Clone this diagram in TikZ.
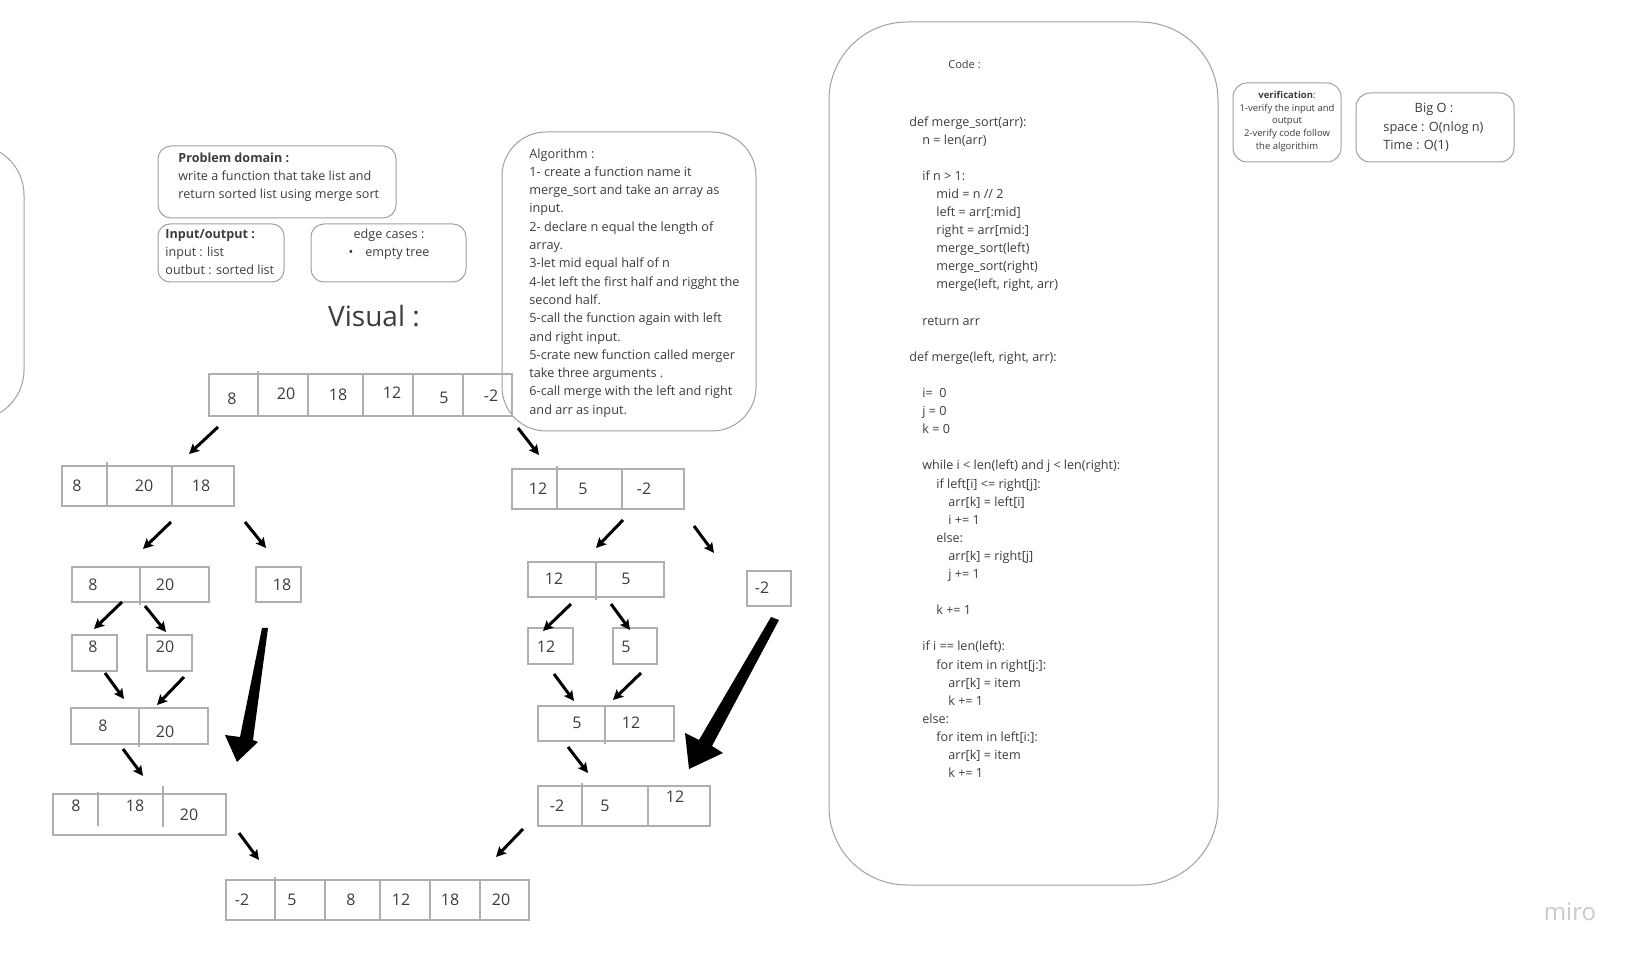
\documentclass[tikz,border=0pt]{standalone}
\usepackage{fontspec}
\setmainfont{Open Sans}
\usetikzlibrary{arrows.meta}
\definecolor{inkgray}{RGB}{60,60,60}
\definecolor{boxgray}{RGB}{160,160,160}
\definecolor{cellgray}{RGB}{175,175,175}
\definecolor{logogray}{RGB}{200,202,210}
\newcommand{\indI}{\hspace*{6.5pt}}
\newcommand{\indII}{\hspace*{13.5pt}}
\newcommand{\indIII}{\hspace*{19.5pt}}
\tikzset{
  cell/.style={draw=cellgray, line width=0.7pt},
  note/.style={draw=boxgray, line width=0.5pt},
  num/.style={inner sep=0pt, text=inkgray, font=\fontsize{8}{9}\selectfont},
  txt/.style={inner sep=0pt, text=inkgray, align=left, anchor=north west, font=\fontsize{6.3}{9}\selectfont},
  arr/.style={line width=1.5pt, -{Stealth[length=5pt,width=5pt,inset=1pt]}},
}
\begin{document}
\begin{tikzpicture}[x=0.5pt,y=-0.5pt]
\useasboundingbox (0,0) rectangle (1633,956);
\clip (0,0) rectangle (1633,956);

% notes
\draw[note, rounded corners=25pt] (-100,145) rectangle (24,420);
\draw[note, rounded corners=6.5pt] (158,146) rectangle (396,218);
\node[txt] (prob) at (178,153) {\textbf{Problem domain :}\\write a function that take list and\\return sorted list using merge sort};
\draw[note, rounded corners=6pt] (158,224) rectangle (284,282);
\node[txt] (io) at (165,229) {\textbf{Input/output :}\\input : list\\outbut : sorted list};
\draw[note, rounded corners=6.5pt] (311,224) rectangle (466,282);
\node[txt, anchor=north, align=center] (edge) at (389,229) {edge cases :\\•\hspace{6pt}empty tree};
\node[inner sep=0pt, text=inkgray, font=\fontsize{14}{16}\selectfont] (visual) at (374,316) {Visual :};

\draw[note, rounded corners=22pt] (502,132) rectangle (756,431);
\node[txt, font=\fontsize{6.35}{9.15}\selectfont] (algo) at (529,148) {Algorithm :\\
1- create a function name it\\
merge\_sort and take an array as\\
input.\\
2- declare n equal the length of\\
array.\\
3-let mid equal half of n\\
4-let left the first half and rigght the\\
second half.\\
5-call the function again with left\\
and right input.\\
5-crate new function called merger\\
take three arguments .\\
6-call merge with the left and right\\
and arr as input.};

% code
\draw[note, rounded corners=39pt] (829,22) rectangle (1218,885);
\node[txt, font=\fontsize{5.5}{7}\selectfont] (codet) at (948,60) {Code :};
\node[txt, font=\fontsize{6.3}{9.05}\selectfont] (code) at (909,116) {def merge\_sort(arr):\\
\indI n = len(arr)\\
\mbox{}\\
\indI if n > 1:\\
\indII mid = n // 2\\
\indII left = arr[:mid]\\
\indII right = arr[mid:]\\
\indII merge\_sort(left)\\
\indII merge\_sort(right)\\
\indII merge(left, right, arr)\\
\mbox{}\\
\indI return arr\\
\mbox{}\\
def merge(left, right, arr):\\
\mbox{}\\
\indI i=~ 0\\
\indI j = 0\\
\indI k = 0\\
\mbox{}\\
\indI while i < len(left) and j < len(right):\\
\indII if left[i] <= right[j]:\\
\indIII arr[k] = left[i]\\
\indIII i += 1\\
\indII else:\\
\indIII arr[k] = right[j]\\
\indIII j += 1\\
\mbox{}\\
\indII k += 1\\
\mbox{}\\
\indI if i == len(left):\\
\indII for item in right[j:]:\\
\indIII arr[k] = item\\
\indIII k += 1\\
\indI else:\\
\indII for item in left[i:]:\\
\indIII arr[k] = item\\
\indIII k += 1};

\draw[note, rounded corners=7pt] (1233,83) rectangle (1341,162);
\node[txt, anchor=north, align=center, font=\fontsize{4.75}{6.3}\selectfont] (verif) at (1287,91) {\textbf{verification}:\\1-verify the input and\\output\\2-verify code follow\\the algorithim};
\draw[note, rounded corners=7pt] (1356,93) rectangle (1514,162);
\node[txt, anchor=north, font=\fontsize{6.4}{9}\selectfont] (bigot) at (1434,103) {Big O :};
\node[txt, font=\fontsize{6.4}{9}\selectfont] (bigo) at (1383,121) {space : O(nlog n)\\Time : O(1)};

% split rows
\draw[cell] (209,374) rectangle (512,416);
\draw[cell] (258,371) -- (258,416);
\foreach \x in {308,363,413,463} \draw[cell] (\x,374) -- (\x,416);
\foreach \x/\y/\t [count=\i] in {232/399/8,286/394/20,338/395/18,392/393/12,444/398/5,491/396/-2}
  \node[num] (top\i) at (\x,\y) {\t};

\draw[cell] (62,466) rectangle (234,506);
\draw[cell] (107,462) -- (107,506) (172,466) -- (172,506);
\foreach \x/\y/\t [count=\i] in {77/486/8,144/486/20,201/486/18}
  \node[num] (lb\i) at (\x,\y) {\t};

\draw[cell] (72,567) rectangle (209,602);
\draw[cell] (140,567) -- (140,605);
\node[num] (lc1) at (93,585) {8};
\node[num] (lc2) at (165,585) {20};
\draw[cell] (256,567) rectangle (301,602);
\node[num] (lc3) at (282,585) {18};

\draw[cell] (72,635) rectangle (117,671);
\node[num] (ld1) at (93,647) {8};
\draw[cell] (147,635) rectangle (192,671);
\node[num] (ld2) at (165,647) {20};

% merge rows
\draw[cell] (71,708) rectangle (208,744);
\draw[cell] (139,708) -- (139,747);
\node[num] (le1) at (103,726) {8};
\node[num] (le2) at (165,732) {20};

\draw[cell] (53,794) rectangle (226,835);
\draw[cell] (98,792) -- (98,826) (163,786) -- (163,827);
\foreach \x/\y/\t [count=\i] in {76/806/8,135/806/18,189/815/20}
  \node[num] (lf\i) at (\x,\y) {\t};

\draw[cell] (226,880) rectangle (529,920);
\draw[cell] (275,877) -- (275,920);
\foreach \x in {325,380,430,480} \draw[cell] (\x,880) -- (\x,920);
\foreach \x/\y/\t [count=\i] in {242/900/-2,292/900/5,351/900/8,401/900/12,450/900/18,501/900/20}
  \node[num] (res\i) at (\x,\y) {\t};

% right side
\draw[cell] (512,469) rectangle (684,509);
\draw[cell] (557,466) -- (557,509) (622,469) -- (622,509);
\foreach \x/\y/\t [count=\i] in {538/489/12,583/489/5,644/489/-2}
  \node[num] (rb\i) at (\x,\y) {\t};

\draw[cell] (528,562) rectangle (664,597);
\draw[cell] (596,562) -- (596,600);
\node[num] (rc1) at (554,579) {12};
\node[num] (rc2) at (626,579) {5};
\draw[cell] (747,571) rectangle (791,606);
\node[num] (rc3) at (762,588) {-2};

\draw[cell] (528,628) rectangle (573,664);
\node[num] (rd1) at (546,647) {12};
\draw[cell] (613,628) rectangle (657,664);
\node[num] (rd2) at (626,647) {5};

\draw[cell] (538,706) rectangle (674,741);
\draw[cell] (605,706) -- (605,744);
\node[num] (re1) at (577,723) {5};
\node[num] (re2) at (631,723) {12};

\draw[cell] (538,786) rectangle (710,826);
\draw[cell] (582,783) -- (582,826) (648,786) -- (648,826);
\foreach \x/\y/\t [count=\i] in {557/806/-2,605/806/5,675/797/12}
  \node[num] (rf\i) at (\x,\y) {\t};

% arrows
\foreach \n/\sx/\sy/\tx/\ty in {a1/218/427/189/454,a2/171/522/143/549,a3/245/522/266/548,
    a4/122/602/94/629,a5/145/606/166/632,a6/105/673/124/699,a7/184/677/157/705,
    a8/123/749/143/776,a9/239/833/259/860,b1/518/428/539/455,b2/623/520/596/548,
    b3/694/526/714/553,b4/571/604/543/631,b5/611/604/630/630,b6/554/674/574/701,
    b7/641/673/613/700,b8/568/747/588/773,b9/523/829/496/857}{
  \coordinate (\n-s) at (\sx,\sy);
  \coordinate (\n-t) at (\tx,\ty);
  \draw[arr] (\n-s) -- (\n-t);
}
\fill (262,628) -- (268,628) -- (253,740) -- (258,742) -- (237,762) -- (225,735) -- (240,737) -- cycle;
\fill (771,617) -- (779,620) -- (712,746) -- (723,753) -- (689,769) -- (685,733) -- (699,740) -- cycle;

\node[inner sep=0pt, text=logogray, font=\fontsize{12}{14}\selectfont] (logo) at (1570,912) {miro};
\end{tikzpicture}
\end{document}
